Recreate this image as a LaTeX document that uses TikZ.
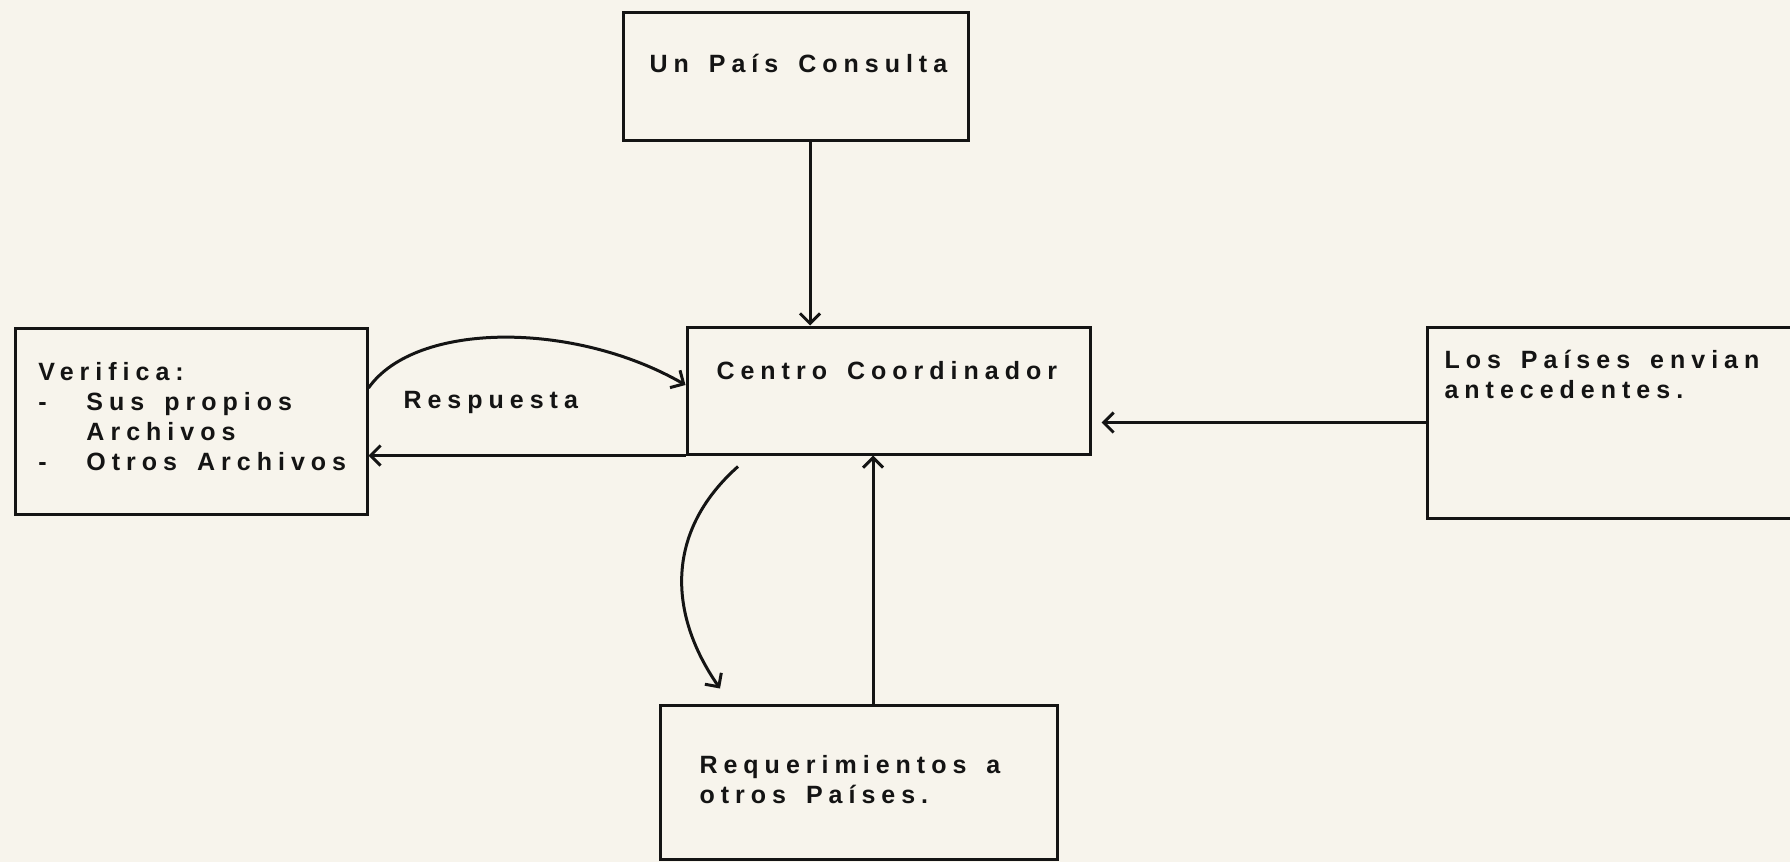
\documentclass[tikz,border=0pt]{standalone}
\usepackage{fontspec}
\setmainfont{Liberation Sans}[LetterSpace=24]
\usepackage{xcolor}
\usetikzlibrary{arrows.meta}
\definecolor{paper}{RGB}{247,244,236}
\definecolor{ink}{RGB}{20,20,20}
\newcommand\boxfont{\fontsize{12.5pt}{15pt}\selectfont\bfseries
  \spaceskip=10pt plus 1pt\relax\xspaceskip=10pt plus 1pt\relax}
\newcommand\boxlines[1]{\begin{tabular}[t]{@{}l@{}}#1\end{tabular}}

\begin{document}
\begin{tikzpicture}[x=0.5pt,y=-0.5pt,
  line width=1.5pt, draw=ink,
  >={Straight Barb[length=5pt,width=10pt,line width=1.5pt]},
  box/.style={draw=ink,rectangle,inner sep=0pt,line width=1.5pt},
  txt/.style={inner sep=0pt,text=ink,anchor=base west,font=\boxfont}]
  \fill[paper] (0,0) rectangle (1790,862);
  \useasboundingbox (0,0) rectangle (1790,862);

  % boxes
  \node[box,minimum width=172.5pt,minimum height=64pt] (consulta) at (795.5,76) {};
  \node[box,minimum width=201.5pt,minimum height=63.5pt] (centro) at (888.5,390.5) {};
  \node[box,minimum width=176pt,minimum height=93pt] (verifica) at (191,421) {};
  \node[box,minimum width=200pt,minimum height=95.5pt] (envian) at (1627,422.5) {};
  \node[box,minimum width=198.5pt,minimum height=77pt] (requer) at (858.5,782) {};

  % texts
  \node[txt] (consultatxt) at (648,72) {Un País Consulta};
  \node[txt] (centrotxt) at (715,379) {Centro Coordinador};
  \node[txt] (verificatxt) at (37,380) {\boxlines{Verifica:\\
    \makebox[24pt][l]{-}Sus propios\\
    \hspace*{24pt}Archivos\\
    \makebox[24pt][l]{-}Otros Archivos}};
  \node[txt] (respuesta) at (402,408) {Respuesta};
  \node[txt] (enviantxt) at (1443,368) {\boxlines{Los Países envian\\antecedentes.}};
  \node[txt] (requertxt) at (698,773) {\boxlines{Requerimientos a\\otros Países.}};

  % connectors
  \draw[->] ([xshift=7.25pt]consulta.south) -- ([xshift=7.25pt]consulta.south |- centro.north);
  \draw[->] ([yshift=16.5pt]verifica.east) .. controls +(47,-67) and +(-111,-64) .. ([yshift=2.75pt]centro.west);
  \draw[->] (centro.south west) -- (centro.south west -| verifica.east);
  \draw[->,shorten >=5pt] (envian.west) -- (envian.west -| centro.east);
  \draw[->] ([xshift=7.25pt]requer.north) -- ([xshift=7.25pt]requer.north |- centro.south);
  \draw[->] ([shift={(-150.5,11)}]centro.south) .. controls +(-73,65) and +(-52,-75) .. ([shift={(-138.5,-15)}]requer.north);
\end{tikzpicture}
\end{document}
